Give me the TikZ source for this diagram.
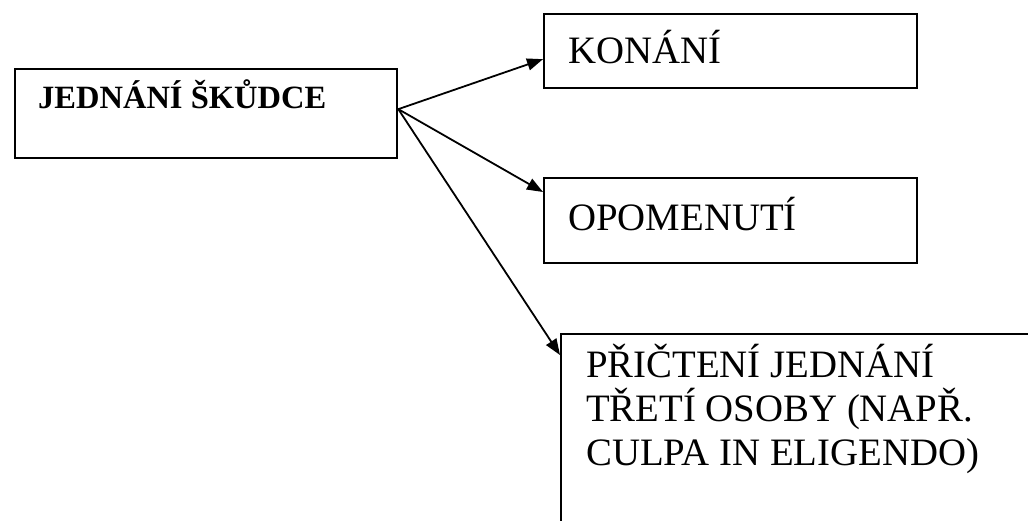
\documentclass[tikz,border=0pt]{standalone}
\usepackage{fontspec}
\setmainfont{Liberation Serif}
\usetikzlibrary{arrows.meta}
\begin{document}
\begin{tikzpicture}[x=1pt,y=-1pt,
  box/.style={draw=black, line width=2.3pt, inner sep=0pt, anchor=north west},
  lbl/.style={inner sep=0pt, font=\fontsize{38.8}{44}\selectfont},
  blbl/.style={inner sep=0pt, font=\fontsize{32.5}{37}\selectfont\bfseries},
  arr/.style={draw=black, line width=1.8pt, -{Triangle[length=16pt,width=12pt]}}]
\useasboundingbox (0,0) rectangle (1028,520);
\clip (0,0) rectangle (1028,520);
% boxes
\node[box, minimum width=382pt, minimum height=89pt] (j) at (14,68) {};
\node[box, minimum width=373pt, minimum height=74pt] (k) at (543,13) {};
\node[box, minimum width=373pt, minimum height=85pt] (o) at (543,177) {};
\node[box, minimum width=500pt, minimum height=220pt] (p) at (560,333) {};
% texts
\node[blbl, anchor=base west] (jt) at (38,108) {JEDNÁNÍ ŠKŮDCE};
\node[lbl, anchor=base west] (kt) at (568,63) {KONÁNÍ};
\node[lbl, anchor=base west] (ot) at (568,230) {OPOMENUTÍ};
\node[lbl, anchor=north west, align=left] (pt) at (586,333)
  {\rule{0pt}{44pt}PŘIČTENÍ JEDNÁNÍ\\TŘETÍ OSOBY (NAPŘ.\\CULPA IN ELIGENDO)};
% connectors
\coordinate (src) at ([yshift=4.5pt]j.east);
\draw[arr] (src) -- ([yshift=-8pt]k.west);
\draw[arr] (src) -- ([yshift=-15pt]o.north west);
\draw[arr] (src) -- ([yshift=-22pt]p.north west);
\end{tikzpicture}
\end{document}
